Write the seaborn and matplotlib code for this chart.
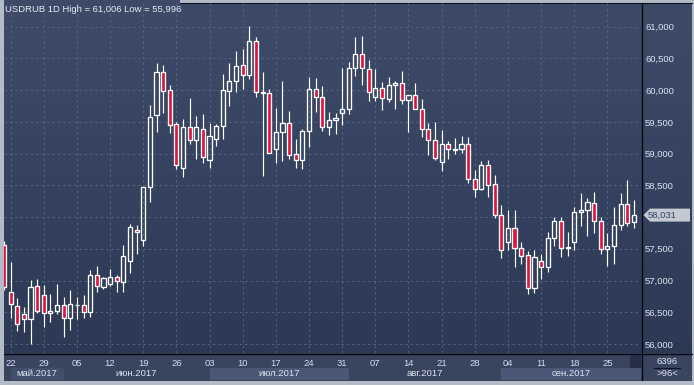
import numpy as np
import pandas as pd
import matplotlib
matplotlib.use("Agg")
import matplotlib.pyplot as plt
import matplotlib.transforms as mtransforms
from matplotlib.colors import LinearSegmentedColormap
from matplotlib.patches import Rectangle, Polygon
import seaborn as sns

# ---------------- data ----------------
dates = pd.bdate_range("2017-05-19", "2017-09-29")

opens = [
    57561,
    56816, 56606, 56469, 56396, 56910,
    56768, 56490, 56516, 56611, 56406,
    56611, 56611, 56501, 57083, 56905,
    56952, 57052, 56984, 57304, 57792,
    57635, 58470, 59604, 60281, 59997,
    59462, 58769, 59414, 59210, 59383,
    58895, 59226, 59430, 59992, 60139,
    60391, 60233, 60769, 59950, 59950,
    59078, 59336, 59478, 58989, 58895,
    59362, 60013, 59887, 59414, 59525,
    59635, 59698, 60344, 60564, 60328,
    59887, 60029, 59855, 60076, 60108,
    59840, 59918, 59698, 59383, 59210,
    58874, 59147, 59057, 59068, 59147,
    58595, 58438, 58816, 58517, 58028,
    57614, 57824, 57509, 57398, 56879,
    57304, 57210, 57666, 57934, 57514,
    57614, 58076, 58107, 58218, 57934,
    57493, 57540, 57871, 58202, 57918,
]
closes = [
    56895,
    56627, 56312, 56396, 56895, 56522,
    56485, 56522, 56611, 56406, 56627,
    56621, 56501, 57083, 56910, 57036,
    57052, 56989, 57388, 57840, 57761,
    58475, 59572, 60281, 59981, 59446,
    58816, 59414, 59210, 59414, 58942,
    59273, 59435, 59997, 60139, 60375,
    60233, 60769, 59966, 59966, 59005,
    59336, 59478, 58974, 58895, 59352,
    60013, 59887, 59414, 59525, 59556,
    59698, 60344, 60564, 60344, 59966,
    60029, 59871, 60076, 60108, 59840,
    59918, 59698, 59383, 59210, 58937,
    59147, 59068, 59068, 59147, 58595,
    58438, 58816, 58501, 58028, 57477,
    57824, 57509, 57383, 56879, 57367,
    57210, 57666, 57934, 57509, 57525,
    58076, 58107, 58233, 57934, 57493,
    57540, 57871, 58202, 57902, 58031,
]
highs = [
    57620,
    57299, 56721, 56585, 57005, 57026,
    56931, 56784, 56947, 56742, 56852,
    56742, 56774, 57167, 57230, 57057,
    57183, 57089, 57561, 57892, 57876,
    58475, 59766, 60422, 60396, 60081,
    59493, 59546, 59876, 59593, 59624,
    59483, 59472, 60249, 60422, 60617,
    60648, 61006, 60832, 60286, 60018,
    59719, 60144, 59666, 59226, 59388,
    60207, 60191, 60065, 59656, 59640,
    60349, 60449, 60837, 60853, 60475,
    60333, 60134, 60207, 60144, 60302,
    59918, 60108, 59855, 59488, 59499,
    59373, 59199, 59241, 59278, 59262,
    58742, 58890, 58900, 58664, 58191,
    58113, 58113, 57603, 57467, 57483,
    57414, 57771, 57997, 58007, 57766,
    58154, 58375, 58301, 58396, 58002,
    57750, 58160, 58380, 58585, 58265,
]
lows = [
    56850,
    56406, 56210, 56194, 55996, 56485,
    56275, 56343, 56480, 56115, 56225,
    56396, 56417, 56432, 56816, 56868,
    56921, 56816, 56826, 57125, 57425,
    57551, 58244, 59336, 59645, 59331,
    58753, 58637, 59157, 58910, 58858,
    58779, 59126, 59236, 59756, 59976,
    60023, 60181, 59898, 58648, 59005,
    58858, 58890, 58921, 58779, 58763,
    59110, 59661, 59362, 59299, 59315,
    59457, 59630, 60228, 60087, 59834,
    59834, 59693, 59819, 59709, 59787,
    59346, 59698, 59268, 58979, 58900,
    58732, 58921, 59000, 59015, 58543,
    58322, 58422, 58322, 57986, 57362,
    57477, 57220, 57257, 56784, 56800,
    57031, 57131, 57551, 57378, 57383,
    57488, 57866, 57708, 57755, 57425,
    57236, 57257, 57792, 57866, 57834,
]
y_ticks = [56000, 56500, 57000, 57500, 58000, 58500, 59000, 59500, 60000, 60500, 61000]
month_names = ["май.2017", "июн.2017", "июл.2017", "авг.2017", "сен.2017"]
title_text = "USDRUB 1D High = 61,006 Low = 55,996"
last_price = 58031
counter_top = "6396"
counter_bottom = ">96<"

# ---------------- style ----------------
sns.set_theme(style="dark")
plt.rcParams["font.family"] = ["Liberation Sans", "DejaVu Sans"]

W, H = 694, 385
fig = plt.figure(figsize=(W / 100, H / 100), dpi=100)

def fx(px):
    return px / W

def fy(py):
    return 1 - py / H

# background
bg = fig.add_axes([0, 0, 1, 1])
bg.set_axis_off()
bg.set_xlim(0, 1)
bg.set_ylim(0, 1)
grad = np.linspace(0, 1, 256).reshape(-1, 1)
cmap = LinearSegmentedColormap.from_list("g", ["#2b3752", "#344260", "#3e4b68"])
bg.imshow(grad, aspect="auto", cmap=cmap, extent=[0, 1, 0, 1], origin="lower", zorder=0)

def frect(x0, y0, x1, y1, color, z=1):
    bg.add_patch(Rectangle((fx(x0), fy(y1)), fx(x1) - fx(x0), fy(y0) - fy(y1),
                           facecolor=color, edgecolor="none", zorder=z))

# bottom strip
frect(0, 353, W, 381, "#39455f", 1)
# borders
frect(0, 0, 3.5, H, "#b3bbc7", 5)
frect(0, 380.5, W, H, "#b3bbc7", 5)
frect(691.5, 0, W, H, "#b3bbc7", 5)
frect(180, 0, W, 2.5, "#b3bbc7", 5)
bg.plot([fx(180), fx(692)], [fy(3), fy(3)], color="#0d1220", lw=0.8, zorder=6)
# separators
bg.plot([fx(4), fx(692)], [fy(353.5), fy(353.5)], color="#05080f", lw=1.0, zorder=6)
bg.plot([fx(641.5), fx(641.5)], [fy(3), fy(380)], color="#05080f", lw=1.0, zorder=6)

# ---------------- main axes ----------------
ax = fig.add_axes([fx(4), fy(353), fx(641) - fx(4), fy(3) - fy(353)])
ax.set_facecolor("none")
n = len(dates)
x = np.arange(n)
df = pd.DataFrame({"x": x, "open": opens, "high": highs, "low": lows, "close": closes})
df["up"] = df["close"] >= df["open"]
df["top"] = df[["open", "close"]].max(axis=1)
df["bot"] = df[["open", "close"]].min(axis=1)
df["h"] = (df["top"] - df["bot"]).clip(lower=6)

ax.set_xlim(0, 96.07)
ax.set_ylim(55858, 61373)

# grid
mondays = [i for i, d in enumerate(dates) if d.weekday() == 0]
ax.set_xticks(mondays)
ax.set_xticklabels([dates[i].strftime("%d") for i in mondays])
ax.set_yticks(y_ticks)
# the 58,000 label sits under the last-price marker in the reference
ax.set_yticklabels(["" if abs(v - last_price) < 150 else f"{v:,}" for v in y_ticks])
ax.grid(True, color="#56637f", linestyle=(0, (2.5, 3)), linewidth=0.7)
ax.set_axisbelow(True)
ax.yaxis.tick_right()
ax.tick_params(axis="y", length=0, pad=3, labelsize=6.8, labelcolor="#dbe4f2")
ax.tick_params(axis="x", length=0, pad=4.2, labelsize=6.8, labelcolor="#d0dbee")
sns.despine(ax=ax, left=True, bottom=True, right=True, top=True)

# wicks
ax.vlines(df["x"], df["top"], df["high"], color="white", lw=0.85, zorder=3)
ax.vlines(df["x"], df["low"], df["bot"], color="white", lw=0.85, zorder=3)
# bodies
face = ["none" if u else "#e0143b" for u in df["up"]]
ax.bar(df["x"], df["h"], bottom=df["bot"], width=0.62, color=face,
       edgecolor="white", linewidth=0.95, zorder=4)

# month strip boxes
bt = mtransforms.blended_transform_factory(ax.transData, ax.transAxes)
month_starts = [1] + [i for i in range(1, n) if dates[i].month != dates[i - 1].month]
month_ends = month_starts[1:] + [96.07]
box_colors = ["#414e6c", "#39455f", "#4a5777", "#39455f", "#4a5777"]
y_box0 = (353 - 380) / 350
y_box1 = (353 - 368) / 350
for s, e, name, c in zip(month_starts, month_ends, month_names, box_colors):
    ax.add_patch(Rectangle((s, y_box0), e - s, y_box1 - y_box0, transform=bt,
                           facecolor=c, edgecolor="none", clip_on=False, zorder=2))
    ax.text((s + e) / 2, (353 - 374) / 350, name, transform=bt, ha="center", va="center",
            fontsize=6.8, color="#dde5f1", clip_on=False, zorder=3)

# scrollbar box
frect(629.5, 355, 640.5, 379, "#262f45", 7)

# title
fig.text(fx(5), fy(10), title_text, ha="left", va="center", fontsize=6.8, color="#e6ecf6")

# price label
pt = mtransforms.blended_transform_factory(fig.transFigure, ax.transData)
hh = 6.5 * (61373 - 55858) / 350
poly = Polygon([(fx(643.5), last_price), (fx(650), last_price + hh), (fx(690), last_price + hh),
                (fx(690), last_price - hh), (fx(650), last_price - hh)],
               closed=True, transform=pt, facecolor="#c3c8d1", edgecolor="none",
               clip_on=False, zorder=8)
ax.add_patch(poly)
ax.text(fx(648), last_price, f"{last_price:,}", transform=pt, ha="left", va="center",
        fontsize=6.8, color="#34466a", clip_on=False, zorder=9)

# counter texts
fig.text(fx(667), fy(361), counter_top, ha="center", va="center", fontsize=6.8, color="#dbe4f2")
bg.plot([fx(654), fx(680)], [fy(367.5), fy(367.5)], color="#0d1220", lw=0.8, zorder=6)
fig.text(fx(667), fy(373.5), counter_bottom, ha="center", va="center", fontsize=6.8, color="#dbe4f2")

fig.savefig("out.png", dpi=100)
